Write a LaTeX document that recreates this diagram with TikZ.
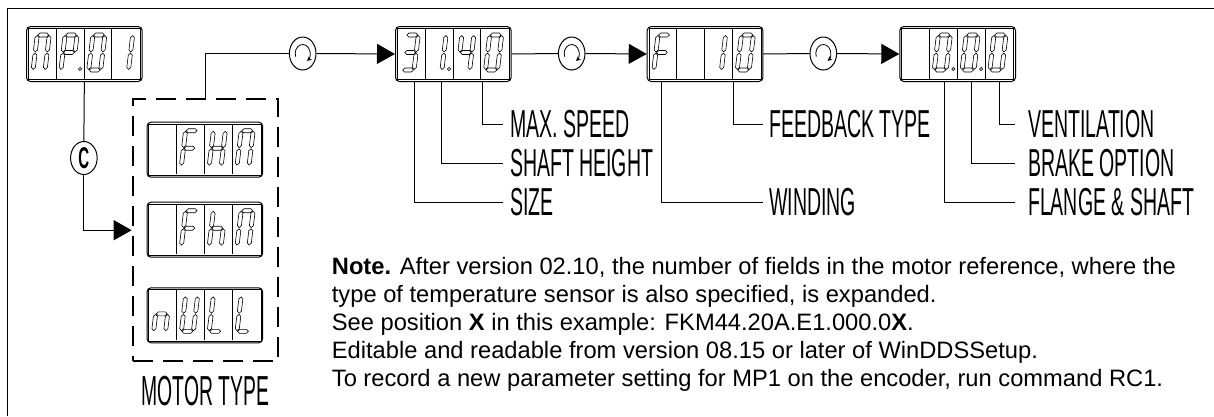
\documentclass[tikz,border=0pt]{standalone}
\usepackage{fontspec}
\setmainfont{Liberation Sans}
\newfontfamily\techfont[FakeStretch=0.5]{Liberation Sans}
\newfontfamily\motorfont[FakeStretch=0.46]{Liberation Sans}
\usetikzlibrary{arrows.meta,positioning,shapes.geometric}
\tikzset{
  disp/.style={draw,rounded corners=4pt,line width=1pt,minimum width=115.7pt,minimum height=55pt,inner sep=0pt},
  segline/.style={line width=0.6pt},
  knob/.style={draw,ellipse,line width=1pt,minimum width=26.6pt,minimum height=33pt,inner sep=0pt},
  flow/.style={line width=1pt},
  lbl/.style={font=\techfont\fontsize{39}{40}\selectfont,inner ysep=0pt,inner xsep=6.5pt,anchor=west},
  mtbox/.style={draw,line width=2pt,dash pattern=on 20pt off 10pt,minimum width=145.6pt,minimum height=261.7pt},
}
\newcommand{\sgma}{\draw[segline] (0.6,0)--(2.6,-2)--(9.4,-2)--(11.4,0)--(9.4,2)--(2.6,2)--cycle;}
\newcommand{\sgmg}{\draw[segline] (0.6,17.5)--(2.6,15.5)--(9.4,15.5)--(11.4,17.5)--(9.4,19.5)--(2.6,19.5)--cycle;}
\newcommand{\sgmd}{\draw[segline] (0.6,35)--(2.6,33)--(9.4,33)--(11.4,35)--(9.4,37)--(2.6,37)--cycle;}
\newcommand{\sgmf}{\draw[segline] (0,0.6)--(2,2.6)--(2,14.9)--(0,16.9)--(-2,14.9)--(-2,2.6)--cycle;}
\newcommand{\sgme}{\draw[segline] (0,18.1)--(2,20.1)--(2,32.4)--(0,34.4)--(-2,32.4)--(-2,20.1)--cycle;}
\newcommand{\sgmb}{\draw[segline] (12,0.6)--(14,2.6)--(14,14.9)--(12,16.9)--(10,14.9)--(10,2.6)--cycle;}
\newcommand{\sgmc}{\draw[segline] (12,18.1)--(14,20.1)--(14,32.4)--(12,34.4)--(10,32.4)--(10,20.1)--cycle;}
\newcommand{\sgmx}{}
\newcommand{\segdisp}[3]{%
  \node[disp,anchor=north west] (#1) at (#2) {};
  \draw[line width=0.8pt] ([shift={(2.3,2.3)}]#1.north west) rectangle ([shift={(-2.3,-2.3)}]#1.south east);
  \foreach \k in {1,2,3}
    \draw[line width=0.8pt] ([shift={(2.3+27.8*\k,2.3)}]#1.north west) -- ([shift={(2.3+27.8*\k,52.7)}]#1.north west);
  \foreach \segs/\dotflag [count=\i] in {#3}{
    \begin{scope}[shift={(#2)},shift={(27.8*\i-16.5,9)},xslant=0.12]
      \foreach \sg in \segs {\csname sgm\sg\endcsname}
      \ifnum\dotflag=1 \draw[segline] (19,34) circle[radius=1.6];\fi
    \end{scope}
  }%
}

\begin{document}
\begin{tikzpicture}[x=1pt,y=-1pt,>={Triangle[length=18pt,width=20pt]}]
\useasboundingbox (0,0) rectangle (1214,416);
\draw[line width=1pt] (7,416) -- (7,8) -- (1214,8);

\segdisp{dmp}{26,26}{{a,b,c,e,f}/0,{a,b,e,f,g}/1,{a,b,c,d,e,f}/0,{b,c}/0}
\segdisp{dfkm}{146.5,121.7}{{x}/0,{a,e,f,g}/0,{b,c,e,f,g}/0,{a,b,c,e,f}/0}
\segdisp{dfhm}{146.5,201.7}{{x}/0,{a,e,f,g}/0,{c,e,f,g}/0,{a,b,c,e,f}/0}
\segdisp{dnull}{146.5,287.3}{{c,e,g}/0,{b,c,d,e,f}/0,{d,e,f}/0,{d,e,f}/0}
\segdisp{dsize}{395,26}{{a,b,c,d,g}/0,{b,c}/1,{b,c,f,g}/0,{a,b,c,d,e,f}/0}
\segdisp{dfbk}{646.7,26}{{a,e,f,g}/0,{x}/0,{b,c}/0,{a,b,c,d,e,f}/0}
\segdisp{dopt}{899.3,26}{{x}/0,{a,b,c,d,e,f}/1,{a,b,c,d,e,f}/1,{a,b,c,d,e,f}/0}

\node[mtbox] (mtype) at (205.5,230.2) {};
\node[font=\motorfont\fontsize{42}{44}\selectfont,inner sep=0pt,below=14pt of mtype] (mtname) {MOTOR TYPE};

\node[knob,font=\techfont\bfseries\fontsize{30}{30}\selectfont] (ckey) at (83.85,158) {C};
\node[knob] (r1) at (302.7,53.5) {};
\node[knob] (r2) at (571.7,53.5) {};
\node[knob] (r3) at (823.3,53.5) {};
\foreach \r in {r1,r2,r3}
  \draw[line width=0.8pt,-{Stealth[length=4.5pt,width=4.5pt]}] ([shift={(160:7.5 and 9)}]\r.center) arc[start angle=160,end angle=415,x radius=7.5,y radius=9];

\node[lbl] (maxsp) at (503.3,124) {MAX. SPEED};
\node[lbl] (shaft) at (503.3,163) {SHAFT HEIGHT};
\node[lbl] (sz) at (503.3,202) {SIZE};
\node[lbl] (fbtype) at (762.7,124) {FEEDBACK TYPE};
\node[lbl] (wind) at (762.7,202) {WINDING};
\node[lbl,inner xsep=13pt] (vent) at (1015,124) {VENTILATION};
\node[lbl,inner xsep=13pt] (brake) at (1015,163) {BRAKE OPTION};
\node[lbl,inner xsep=13pt] (flange) at (1015,202) {FLANGE \& SHAFT};

\draw[flow] (dmp.south) -- (ckey.north);
\draw[flow,->] (ckey.south) |- (mtype.west);
\draw[flow] (mtype.north) |- (r1.west);
\draw[flow,->] (r1.east) -- (dsize.west);
\draw[flow] (dsize.east) -- (r2.west);
\draw[flow,->] (r2.east) -- (dfbk.west);
\draw[flow] (dfbk.east) -- (r3.west);
\draw[flow,->] (r3.east) -- (dopt.west);

\draw[flow] ([xshift=19pt]dsize.south west) |- (sz.west);
\draw[flow] ([xshift=46.7pt]dsize.south west) |- (shaft.west);
\draw[flow] ([xshift=87.3pt]dsize.south west) |- (maxsp.west);
\draw[flow] ([xshift=15pt]dfbk.south west) |- (wind.west);
\draw[flow] ([xshift=86.6pt]dfbk.south west) |- (fbtype.west);
\draw[flow] ([xshift=45pt]dopt.south west) |- (flange.west);
\draw[flow] ([xshift=72.4pt]dopt.south west) |- (brake.west);
\draw[flow] ([xshift=99.7pt]dopt.south west) |- (vent.west);

\node[anchor=north west,align=left,inner sep=0pt,font=\fontsize{23.7}{28}\selectfont] (note) at (331.7,257.5)
  {\textbf{Note.} After version 02.10, the number of fields in the motor reference, where the\\
   type of temperature sensor is also specified, is expanded.\\
   See position \textbf{X} in this example: FKM44.20A.E1.000.0\textbf{X}.\\
   Editable and readable from version 08.15 or later of WinDDSSetup.\\
   To record a new parameter setting for MP1 on the encoder, run command RC1.};
\end{tikzpicture}
\end{document}
